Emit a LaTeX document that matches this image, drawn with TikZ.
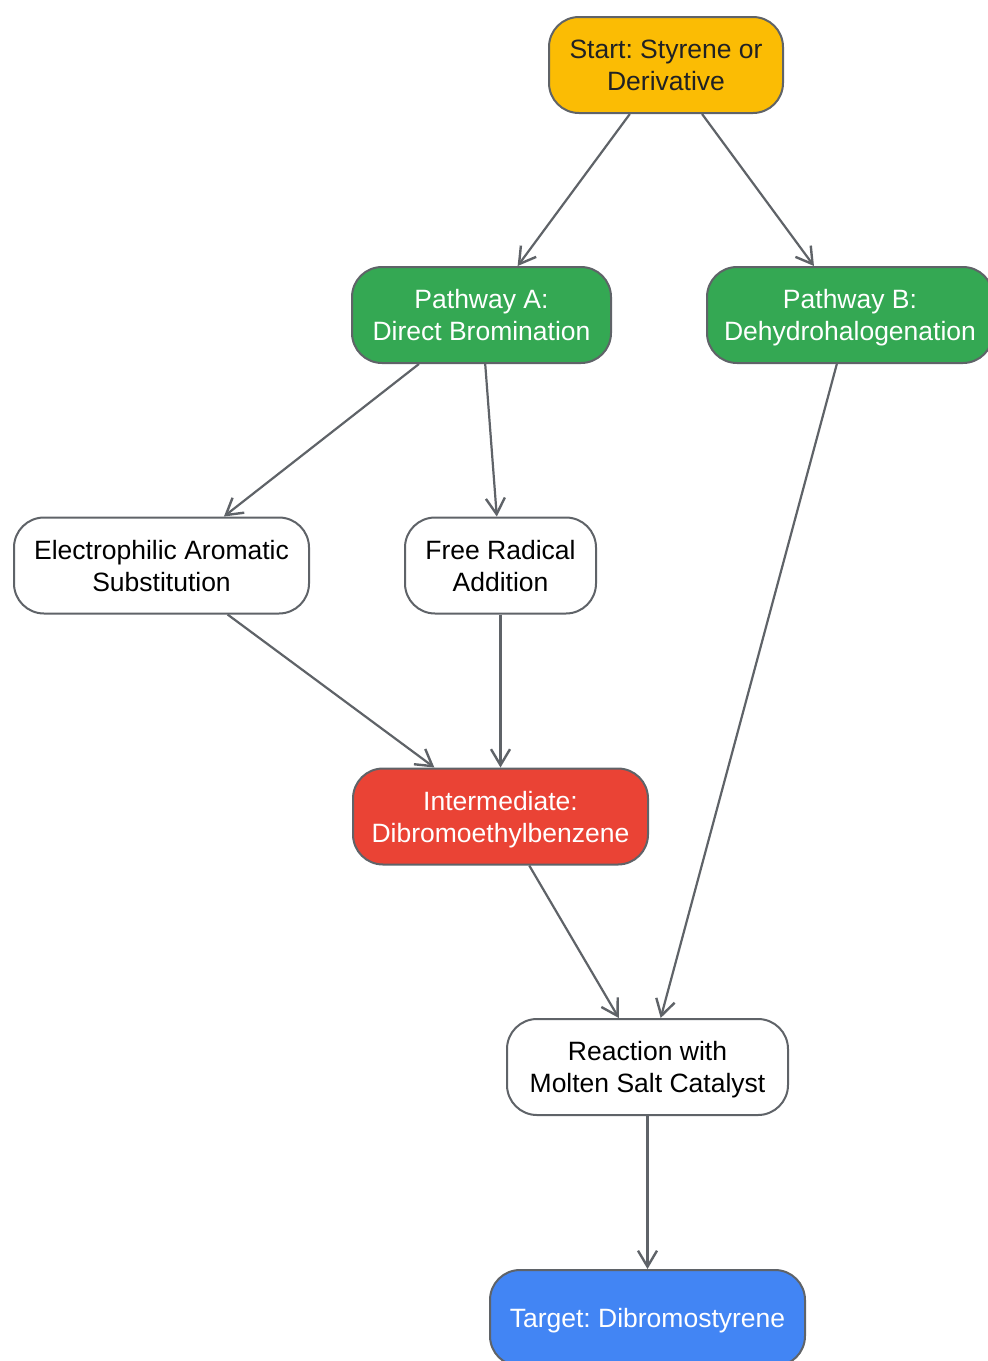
\documentclass[tikz,border=0pt]{standalone}
\usepackage{fontspec}
\setmainfont{Liberation Sans}
\frenchspacing
\usetikzlibrary{arrows.meta}
\definecolor{edgegray}{HTML}{5F6368}
\definecolor{gyellow}{HTML}{FBBC04}
\definecolor{ggreen}{HTML}{34A853}
\definecolor{gred}{HTML}{EA4335}
\definecolor{gblue}{HTML}{4285F4}
\definecolor{darktext}{HTML}{202124}
\tikzset{
  box/.style={draw=edgegray, line width=2pt, rounded corners=30pt, align=center,
    minimum height=96pt, inner sep=0pt, text depth=0pt, font=\fontsize{26.5}{32}\selectfont},
  plainbox/.style={box, fill=white, text=black},
  startbox/.style={box, fill=gyellow, text=darktext},
  greenbox/.style={box, fill=ggreen, text=white},
  redbox/.style={box, fill=gred, text=white},
  bluebox/.style={box, fill=gblue, text=white},
  conn/.style={draw=edgegray, line width=2.2pt, -{Straight Barb[length=16pt,width=19pt,line width=2.4pt]}}
}
\begin{document}
\begin{tikzpicture}[x=1pt,y=-1pt]
\useasboundingbox (0,0) rectangle (988,1361);
\clip (0,0) rectangle (988,1361);
\node[startbox, minimum width=234pt] (start) at (666,65) {Start: Styrene or\\Derivative};
\node[greenbox, minimum width=259pt] (pa) at (481.5,315) {Pathway A:\\Direct Bromination};
\node[greenbox, minimum width=286pt] (pb) at (850,315) {Pathway B:\\Dehydrohalogenation};
\node[plainbox, minimum width=295pt] (eas) at (161.5,565.5) {Electrophilic Aromatic\\Substitution};
\node[plainbox, minimum width=191pt] (frad) at (500.5,565.5) {Free Radical\\Addition};
\node[redbox, minimum width=295pt] (inter) at (500.5,816.5) {Intermediate:\\Dibromoethylbenzene};
\node[plainbox, minimum width=281pt] (react) at (647.5,1067) {Reaction with\\Molten Salt Catalyst};
\node[bluebox, minimum width=315pt] (target) at (647.5,1318) {Target: Dibromostyrene};
\draw[conn] (start) -- (pa);
\draw[conn] (start) -- (pb);
\draw[conn] (pa) -- (eas);
\draw[conn] (pa) -- (frad);
\draw[conn] (eas) -- (inter);
\draw[conn] (frad) -- (inter);
\draw[conn] (inter) -- (react);
\draw[conn] (pb) -- (react);
\draw[conn] (react) -- (target);
\end{tikzpicture}
\end{document}
